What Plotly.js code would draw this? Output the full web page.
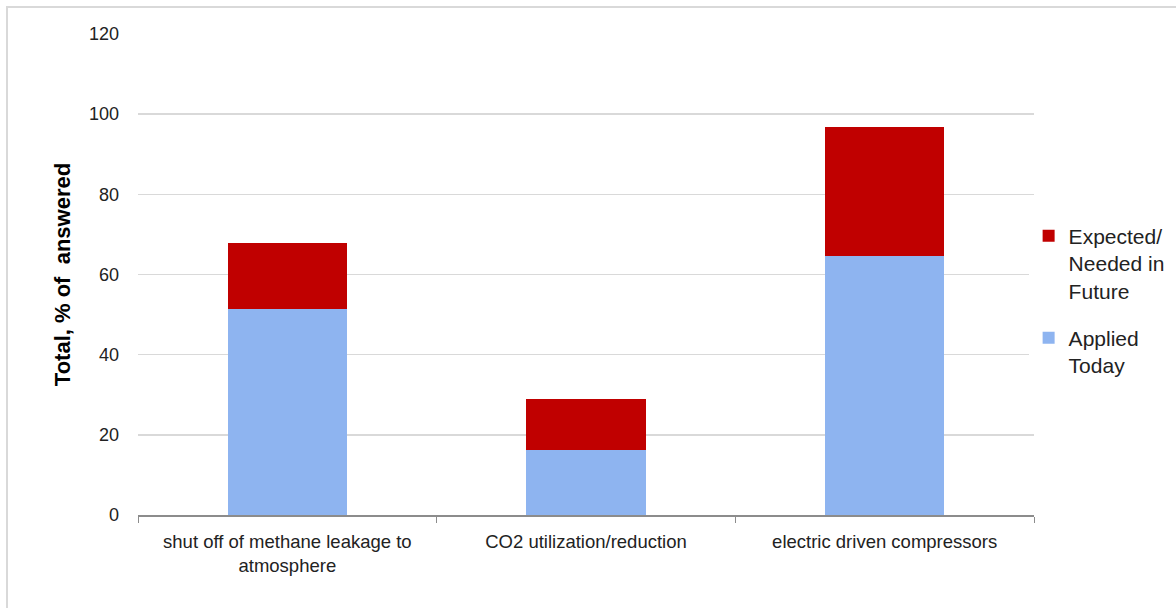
<!DOCTYPE html>
<html>
<head>
<meta charset="utf-8">
<script src="https://cdn.plot.ly/plotly-3.0.1.min.js"></script>
<style>html,body{margin:0;padding:0;background:#fff;}#chart{width:1176px;height:608px;}</style>
</head>
<body>
<div id="chart"></div>
<script>
const categories = ["shut off of methane leakage to<br>atmosphere", "CO2 utilization/reduction", "electric driven compressors"];
const appliedToday = [51.5, 16.1, 64.5];
const expectedFuture = [16.4, 12.8, 32.2];
const seriesNames = ["Applied<br>Today", "Expected/<br>Needed in<br>Future"];
const yTicks = [0, 20, 40, 60, 80, 100, 120];

const FONT = "'Liberation Sans', Arial, sans-serif";

const traces = [
  {type: "bar", name: seriesNames[0], legendgroup: "a", legendrank: 2, x: categories, y: appliedToday, marker: {color: "#8eb4f0"}, width: 0.4, hoverinfo: "y"},
  {type: "bar", name: seriesNames[1], legendgroup: "b", legendrank: 1, x: categories, y: expectedFuture, marker: {color: "#c00000"}, width: 0.4, hoverinfo: "y"}
];

const layout = {
  width: 1176, height: 608,
  margin: {l: 138, r: 142, t: 34, b: 93, autoexpand: false},
  paper_bgcolor: "#fff", plot_bgcolor: "#fff",
  barmode: "stack",
  font: {family: FONT, color: "#222", size: 18},
  showlegend: true,
  legend: {x: 0.994, xanchor: "left", y: 0.6225, yanchor: "top", valign: "top",
           traceorder: "grouped", tracegroupgap: 17,
           font: {family: FONT, size: 21, color: "#222"}, itemwidth: 30},
  xaxis: {showgrid: false, showline: true, linecolor: "#8c8c8c", linewidth: 1.5,
          ticks: "outside", tickson: "boundaries", ticklen: 6, tickcolor: "#8c8c8c",
          ticklabelstandoff: 9,
          tickfont: {family: FONT, size: 18.5, color: "#222"}, fixedrange: true},
  yaxis: {range: [0, 120], tickvals: yTicks, showgrid: true, gridcolor: "#d9d9d9", gridwidth: 1.5,
          zeroline: false, showline: false, ticks: "", ticklabelstandoff: 18,
          tickfont: {family: FONT, size: 18, color: "#222"},
          title: {text: "<b>Total, % of  answered</b>", font: {family: FONT, size: 22, color: "#000"}, standoff: 12},
          fixedrange: true},
  shapes: [
    {type: "rect", xref: "paper", yref: "paper", x0: -0.1462, x1: 2, y0: -1, y1: 1.0561,
     line: {color: "#d9d9d9", width: 2}, fillcolor: "rgba(0,0,0,0)", layer: "below"}
  ]
};

Plotly.newPlot("chart", traces, layout, {displayModeBar: false, staticPlot: true});
</script>
</body>
</html>
